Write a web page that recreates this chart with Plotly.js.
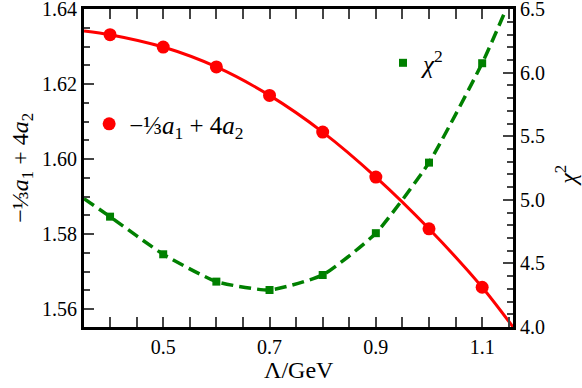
<!DOCTYPE html>
<html>
<head>
<meta charset="utf-8">
<script src="https://cdn.plot.ly/plotly-3.0.1.min.js"></script>
<style>body{margin:0;} #plot{width:582px;height:388px;}</style>
</head>
<body>
<div id="plot"></div>
<script>
// cutoff values (GeV)
var lam = [0.4, 0.5, 0.6, 0.7, 0.8, 0.9, 1.0, 1.1];
// -1/3 a1 + 4 a2
var combo = [1.6332, 1.6299, 1.6246, 1.6170, 1.6072, 1.5952, 1.5814, 1.5658];
// chi^2
var chi2 = [4.868, 4.572, 4.357, 4.291, 4.409, 4.738, 5.293, 6.075];

// fitted curves (ends run to the frame)
var comboCurveX = [0.351].concat(lam, [1.158]);
var comboCurveY = [1.6342].concat(combo, [1.5552]);
var chiCurveX = [0.351].concat(lam, [1.145]);
var chiCurveY = [5.01].concat(chi2, [6.5]);

// tick positions
var xTicks = [0.5, 0.7, 0.9, 1.1];
var xMinor = [0.35, 0.4, 0.45, 0.55, 0.6, 0.65, 0.75, 0.8, 0.85, 0.95, 1.0, 1.05, 1.15];
var yTicks = [1.56, 1.58, 1.60, 1.62, 1.64];
var yMinor = [1.565, 1.57, 1.575, 1.585, 1.59, 1.595, 1.605, 1.61, 1.615, 1.625, 1.63, 1.635];
var y2Ticks = [4.0, 4.5, 5.0, 5.5, 6.0, 6.5];
var y2Minor = [4.1, 4.2, 4.3, 4.4, 4.6, 4.7, 4.8, 4.9, 5.1, 5.2, 5.3, 5.4, 5.6, 5.7, 5.8, 5.9, 6.1, 6.2, 6.3, 6.4];

var fam = '"Liberation Serif", serif';
var comboLabel = '\u2212\u2153<i>a</i><sub>1</sub> + 4<i>a</i><sub>2</sub>';
var chiLabel = '<i>\u03c7</i><sup>2</sup>';

function minorTicks(vals) {
    return {tickvals: vals, ticks: 'inside', ticklen: 6, tickwidth: 2};
}

var data = [{
    x: comboCurveX, y: comboCurveY,
    mode: 'lines', line: {color: '#ff0000', width: 3, shape: 'spline', smoothing: 0.8},
    showlegend: false
}, {
    x: lam, y: combo, name: comboLabel,
    mode: 'markers', marker: {color: '#ff0000', size: 13, symbol: 'circle'}
}, {
    x: chiCurveX, y: chiCurveY, yaxis: 'y2',
    mode: 'lines', line: {color: '#008000', width: 3.5, dash: '12px,6px', shape: 'spline', smoothing: 0.5},
    showlegend: false
}, {
    x: lam, y: chi2, yaxis: 'y2', name: chiLabel,
    mode: 'markers', marker: {color: '#008000', size: 8, symbol: 'square'},
    legend: 'legend2'
}];

var layout = {
    width: 582,
    height: 388,
    margin: {l: 84, r: 69, t: 9, b: 61},
    font: {family: fam, size: 20, color: 'black'},
    xaxis: {
        range: [0.351, 1.158], tickvals: xTicks, tickformat: '.1f',
        ticks: 'inside', ticklen: 10, tickwidth: 2, minor: minorTicks(xMinor),
        showline: true, linewidth: 3, linecolor: 'black', mirror: 'allticks',
        showgrid: false, zeroline: false
    },
    yaxis: {
        range: [1.5552, 1.64005], tickvals: yTicks, tickformat: '.2f',
        ticks: 'inside', ticklen: 10, tickwidth: 2, minor: minorTicks(yMinor),
        ticklabeloverflow: 'allow',
        showline: true, linewidth: 3, linecolor: 'black',
        showgrid: false, zeroline: false
    },
    yaxis2: {
        overlaying: 'y', side: 'right',
        range: [4.0, 6.5015], tickvals: y2Ticks, tickformat: '.1f',
        ticks: 'inside', ticklen: 10, tickwidth: 2, minor: minorTicks(y2Minor),
        ticklabeloverflow: 'allow',
        showline: true, linewidth: 3, linecolor: 'black',
        showgrid: false, zeroline: false
    },
    // axis titles as annotations
    annotations: [
        {text: '\u039b/GeV', xref: 'paper', yref: 'paper', x: 0.5, y: -0.135,
         xanchor: 'center', yanchor: 'middle', showarrow: false, font: {size: 24}},
        {text: comboLabel, xref: 'paper', yref: 'paper', x: -0.145, y: 0.5, textangle: -90,
         xanchor: 'center', yanchor: 'middle', showarrow: false, font: {size: 24}},
        {text: chiLabel, xref: 'paper', yref: 'paper', x: 1.123, y: 0.478, textangle: -90,
         xanchor: 'center', yanchor: 'middle', showarrow: false, font: {size: 24}}
    ],
    legend: {x: 0.012, y: 0.638, xanchor: 'left', yanchor: 'middle', font: {size: 25}},
    legend2: {x: 0.697, y: 0.83, xanchor: 'left', yanchor: 'middle', font: {size: 25}}
};

Plotly.newPlot('plot', data, layout, {displayModeBar: false, staticPlot: true});
</script>
</body>
</html>
